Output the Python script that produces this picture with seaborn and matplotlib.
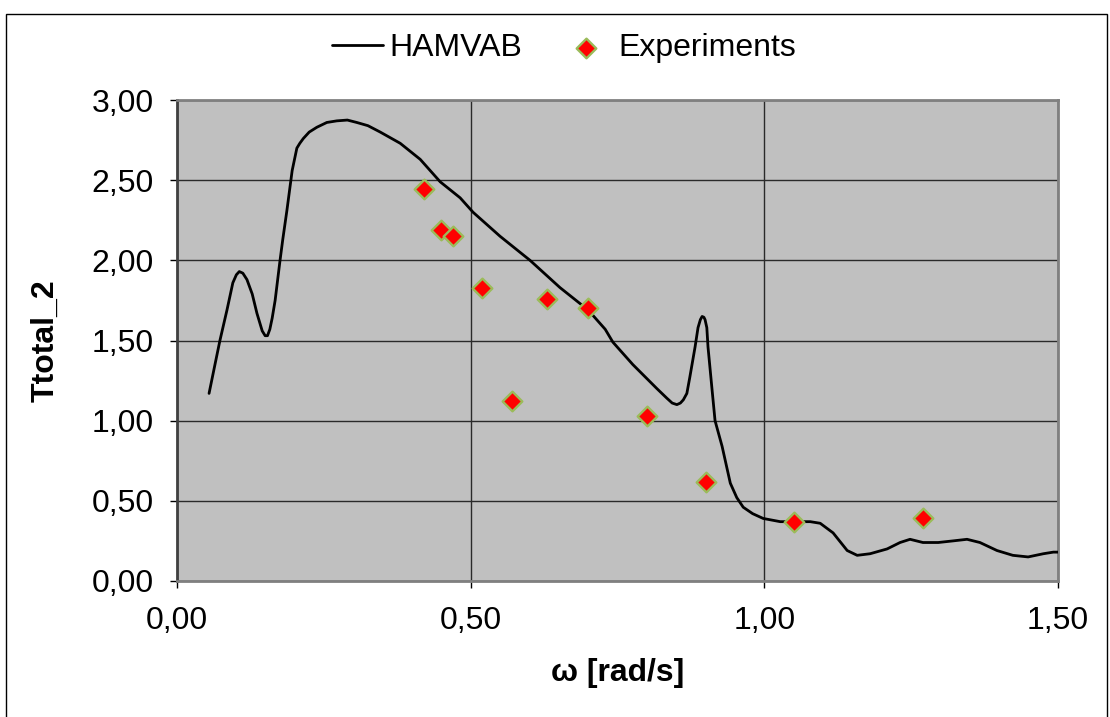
import numpy as np
import pandas as pd
import matplotlib
matplotlib.use("Agg")
import matplotlib.pyplot as plt
import seaborn as sns
from matplotlib.ticker import FuncFormatter, MultipleLocator
from matplotlib.patches import Rectangle

# --- HAMVAB curve ---
omega_hamvab = [
    0.0545, 0.064, 0.073, 0.085, 0.095, 0.101, 0.106, 0.112, 0.119, 0.128,
    0.136, 0.145, 0.150, 0.154, 0.158, 0.162, 0.167, 0.175, 0.180, 0.187,
    0.196, 0.204, 0.209, 0.215, 0.225, 0.238, 0.255, 0.272, 0.290, 0.306,
    0.325, 0.346, 0.380, 0.414, 0.448, 0.482, 0.504, 0.550, 0.601, 0.652,
    0.700, 0.729, 0.742, 0.776, 0.817, 0.834, 0.843, 0.851, 0.857, 0.862,
    0.868, 0.873, 0.882, 0.887, 0.891, 0.894, 0.897, 0.899, 0.902, 0.904,
    0.911, 0.916, 0.928, 0.942, 0.953, 0.964, 0.980, 0.998, 1.027, 1.050,
    1.078, 1.095, 1.117, 1.141, 1.158, 1.180, 1.209, 1.231, 1.248, 1.270,
    1.296, 1.321, 1.345, 1.367, 1.396, 1.423, 1.449, 1.475, 1.492, 1.500,
]
ttotal_hamvab = [
    1.17, 1.34, 1.50, 1.69, 1.86, 1.91, 1.93, 1.92, 1.88, 1.79,
    1.67, 1.56, 1.53, 1.53, 1.57, 1.64, 1.75, 1.99, 2.13, 2.31,
    2.56, 2.70, 2.73, 2.76, 2.80, 2.83, 2.86, 2.87, 2.875, 2.86,
    2.84, 2.80, 2.73, 2.63, 2.49, 2.39, 2.30, 2.15, 2.00, 1.83,
    1.69, 1.57, 1.49, 1.35, 1.20, 1.14, 1.11, 1.10, 1.11, 1.13,
    1.17, 1.27, 1.46, 1.58, 1.63, 1.65, 1.645, 1.63, 1.58, 1.46,
    1.19, 1.00, 0.84, 0.61, 0.52, 0.46, 0.42, 0.39, 0.37, 0.37,
    0.37, 0.36, 0.30, 0.19, 0.16, 0.17, 0.20, 0.24, 0.26, 0.24,
    0.24, 0.25, 0.26, 0.24, 0.19, 0.16, 0.15, 0.17, 0.18, 0.18,
]

# --- Experiments ---
omega_exp = [0.42, 0.45, 0.47, 0.52, 0.57, 0.63, 0.70, 0.80, 0.90, 1.05, 1.27]
ttotal_exp = [2.445, 2.19, 2.15, 1.83, 1.12, 1.76, 1.70, 1.03, 0.62, 0.37, 0.39]

df_line = pd.DataFrame({"omega": omega_hamvab, "T": ttotal_hamvab})
df_exp = pd.DataFrame({"omega": omega_exp, "T": ttotal_exp})

sns.set_theme(style="white")
plt.rcParams["font.family"] = ["Liberation Sans", "DejaVu Sans"]
plt.rcParams["text.color"] = "black"
plt.rcParams["xtick.color"] = "black"
plt.rcParams["ytick.color"] = "black"
plt.rcParams["axes.labelcolor"] = "black"

fig = plt.figure(figsize=(11.1, 7.17), dpi=100)
ax = fig.add_axes([0.1595, 0.1897, 0.7937, 0.6708])
ax.set_facecolor("#C0C0C0")

sns.lineplot(data=df_line, x="omega", y="T", ax=ax, sort=False,
             color="black", linewidth=2.0, label="HAMVAB", zorder=3,
             solid_joinstyle="round", solid_capstyle="round")
sns.scatterplot(data=df_exp, x="omega", y="T", ax=ax, marker="D", s=100,
                color="#FF0000", edgecolor="#9BBB59", linewidth=1.7,
                label="Experiments", zorder=4)

ax.set_xlim(0, 1.5)
ax.set_ylim(0, 3.0)
ax.xaxis.set_major_locator(MultipleLocator(0.5))
ax.yaxis.set_major_locator(MultipleLocator(0.5))
comma = FuncFormatter(lambda v, p: f"{v:.2f}".replace(".", ","))
ax.xaxis.set_major_formatter(comma)
ax.yaxis.set_major_formatter(comma)

ax.grid(True, color="#2a2a2a", linewidth=1.0)
ax.set_axisbelow(True)
for s in ax.spines.values():
    s.set_color("#808080")
    s.set_linewidth(2.0)
ax.spines["left"].set_color("#404040")

ax.tick_params(axis="both", which="major", direction="out", length=5,
               width=1, color="black", labelsize=23, bottom=True, left=True)
ax.tick_params(axis="y", pad=12)
ax.tick_params(axis="x", pad=13)

ax.set_xlabel("ω [rad/s]", fontsize=23, fontweight="bold", labelpad=16)
ax.set_ylabel("Ttotal_2", fontsize=23, fontweight="bold", labelpad=22)

leg = ax.legend(loc="center", bbox_to_anchor=(0.508, 0.933),
                bbox_transform=fig.transFigure, ncol=2, frameon=False,
                fontsize=23, handlelength=1.6, handletextpad=0.2,
                columnspacing=1.2)

# Chart area border
fig.patches.append(Rectangle((0.0054, -0.02), 0.992, 1.01 - 0.0098,
                             transform=fig.transFigure, fill=False,
                             edgecolor="black", linewidth=1.0))

fig.savefig("out.png", dpi=100)
